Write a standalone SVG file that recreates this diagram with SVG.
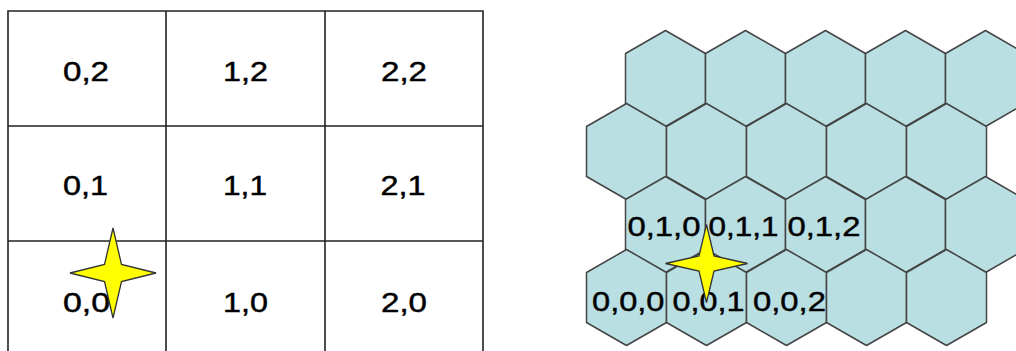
<svg xmlns="http://www.w3.org/2000/svg" xmlns:xlink="http://www.w3.org/1999/xlink" width="1016" height="351" viewBox="0 0 1016 351">
  <defs>
    <style>
      .grid { fill: none; stroke: #222; stroke-width: 1.6; }
      .lbl { font-family: "Liberation Sans", Arial, sans-serif; font-size: 27px; fill: #000; stroke: #000; stroke-width: 0.45; }
      .hlbl { font-family: "Liberation Sans", Arial, sans-serif; font-size: 28px; fill: #000; stroke: #000; stroke-width: 0.45; }
      .hex { fill: #b9dfe3; stroke: #444; stroke-width: 1.5; stroke-linejoin: round; }
      .star { fill: #ffff00; stroke: #333; stroke-width: 1.3; stroke-linejoin: miter; }
    </style>
    <path id="hexShape" class="hex" d="M0,0 L40,23 L40,73 L0,96 L-40,73 L-40,23 Z"/>
  </defs>
  <rect width="1016" height="351" fill="#fff"/>

  <!-- Square grid -->
  <g id="square-grid">
    <g id="grid-lines" class="grid">
      <path d="M8,352 V11 H483 V352"/>
      <path d="M166,11 V352 M325,11 V352"/>
      <path d="M8,126 H483 M8,241 H483"/>
    </g>
    <g id="cell-0-2"><text class="lbl" x="86" y="80.5" text-anchor="middle" textLength="46" lengthAdjust="spacingAndGlyphs">0,2</text></g>
    <g id="cell-1-2"><text class="lbl" x="245.5" y="80.5" text-anchor="middle" textLength="45" lengthAdjust="spacingAndGlyphs">1,2</text></g>
    <g id="cell-2-2"><text class="lbl" x="404" y="80.5" text-anchor="middle" textLength="46" lengthAdjust="spacingAndGlyphs">2,2</text></g>
    <g id="cell-0-1"><text class="lbl" x="85.5" y="195" text-anchor="middle" textLength="45" lengthAdjust="spacingAndGlyphs">0,1</text></g>
    <g id="cell-1-1"><text class="lbl" x="245" y="195" text-anchor="middle" textLength="44" lengthAdjust="spacingAndGlyphs">1,1</text></g>
    <g id="cell-2-1"><text class="lbl" x="403" y="195" text-anchor="middle" textLength="45" lengthAdjust="spacingAndGlyphs">2,1</text></g>
    <g id="cell-0-0"><text class="lbl" x="86.5" y="311.5" text-anchor="middle" textLength="47" lengthAdjust="spacingAndGlyphs">0,0</text></g>
    <g id="cell-1-0"><text class="lbl" x="245.5" y="311.5" text-anchor="middle" textLength="45" lengthAdjust="spacingAndGlyphs">1,0</text></g>
    <g id="cell-2-0"><text class="lbl" x="404" y="311.5" text-anchor="middle" textLength="46" lengthAdjust="spacingAndGlyphs">2,0</text></g>
    <g id="star-square">
      <path class="star" transform="translate(113,273)" d="M0,-45 L8.5,-8.5 L43,0 L8.5,8.5 L0,45 L-8.5,8.5 L-43,0 L-8.5,-8.5 Z"/>
    </g>
  </g>

  <!-- Hex grid -->
  <g id="hex-grid">
    <g id="hex-row-1">
      <use xlink:href="#hexShape" href="#hexShape" x="665.5" y="30.5"/>
      <use xlink:href="#hexShape" href="#hexShape" x="745.5" y="30.5"/>
      <use xlink:href="#hexShape" href="#hexShape" x="825.5" y="30.5"/>
      <use xlink:href="#hexShape" href="#hexShape" x="905.5" y="30.5"/>
      <use xlink:href="#hexShape" href="#hexShape" x="985.5" y="30.5"/>
    </g>
    <g id="hex-row-2">
      <use xlink:href="#hexShape" href="#hexShape" x="626.5" y="103.5"/>
      <use xlink:href="#hexShape" href="#hexShape" x="706.5" y="103.5"/>
      <use xlink:href="#hexShape" href="#hexShape" x="786.5" y="103.5"/>
      <use xlink:href="#hexShape" href="#hexShape" x="866.5" y="103.5"/>
      <use xlink:href="#hexShape" href="#hexShape" x="946.5" y="103.5"/>
    </g>
    <g id="hex-row-3">
      <use xlink:href="#hexShape" href="#hexShape" x="665.5" y="176.5"/>
      <use xlink:href="#hexShape" href="#hexShape" x="745.5" y="176.5"/>
      <use xlink:href="#hexShape" href="#hexShape" x="825.5" y="176.5"/>
      <use xlink:href="#hexShape" href="#hexShape" x="905.5" y="176.5"/>
      <use xlink:href="#hexShape" href="#hexShape" x="985.5" y="176.5"/>
    </g>
    <g id="hex-row-4">
      <use xlink:href="#hexShape" href="#hexShape" x="626.5" y="249.5"/>
      <use xlink:href="#hexShape" href="#hexShape" x="706.5" y="249.5"/>
      <use xlink:href="#hexShape" href="#hexShape" x="786.5" y="249.5"/>
      <use xlink:href="#hexShape" href="#hexShape" x="866.5" y="249.5"/>
      <use xlink:href="#hexShape" href="#hexShape" x="946.5" y="249.5"/>
    </g>
    <g id="hex-0-1-0"><text class="hlbl" x="627.5" y="235.5" textLength="73" lengthAdjust="spacingAndGlyphs">0,1,0</text></g>
    <g id="hex-0-1-1"><text class="hlbl" x="708.5" y="235.5" textLength="70" lengthAdjust="spacingAndGlyphs">0,1,1</text></g>
    <g id="hex-0-1-2"><text class="hlbl" x="787.5" y="235.5" textLength="73" lengthAdjust="spacingAndGlyphs">0,1,2</text></g>
    <g id="hex-0-0-0"><text class="hlbl" x="592" y="310.5" textLength="72.5" lengthAdjust="spacingAndGlyphs">0,0,0</text></g>
    <g id="hex-0-0-1"><text class="hlbl" x="672.5" y="310.5" textLength="72" lengthAdjust="spacingAndGlyphs">0,0,1</text></g>
    <g id="hex-0-0-2"><text class="hlbl" x="753" y="310.5" textLength="73" lengthAdjust="spacingAndGlyphs">0,0,2</text></g>
    <g id="star-hex">
      <path class="star" transform="translate(706.5,263.5)" d="M0,-39 L7.5,-7.5 L41,0 L7.5,7.5 L0,39 L-7.5,7.5 L-41,0 L-7.5,-7.5 Z"/>
    </g>
  </g>
</svg>
